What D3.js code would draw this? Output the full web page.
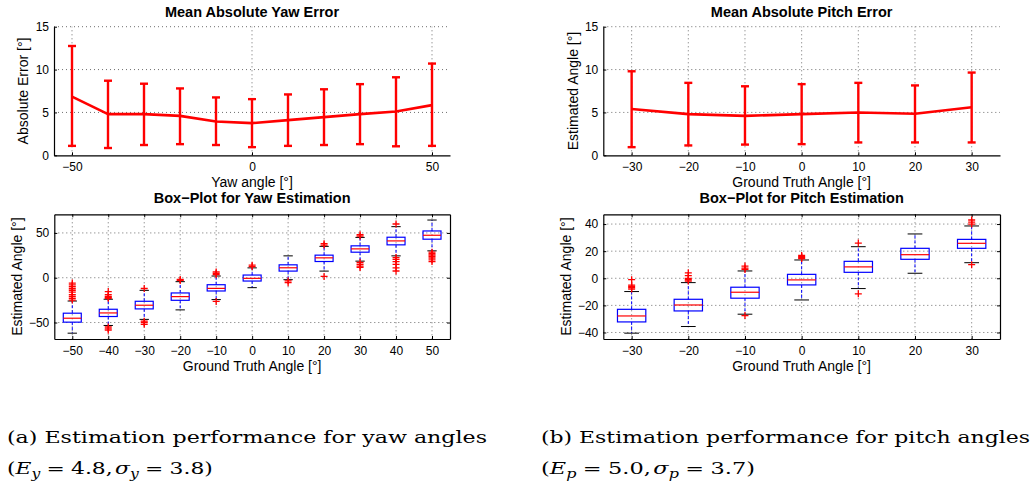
<!DOCTYPE html>
<html><head><meta charset="utf-8">
<script src="https://cdn.jsdelivr.net/npm/d3@7"></script>
<style>
body{margin:0;background:#fff}
svg text{font-family:"Liberation Sans",Arial,Helvetica,sans-serif;fill:#000}
</style>
</head><body>
<svg id="c" width="1032" height="487"></svg>
<script>
// ---------------- DATA ----------------
const yawAngles = [-50,-40,-30,-20,-10,0,10,20,30,40,50];
const yawErrMean = [6.85,4.8,4.8,4.6,3.95,3.75,4.1,4.45,4.8,5.1,5.85];
const yawErrLow  = [1.1,0.85,1.2,1.3,1.2,0.95,1.1,1.2,1.3,1.05,1.1];
const yawErrHigh = [12.75,8.7,8.35,7.8,6.75,6.55,7.1,7.7,8.3,9.1,10.7];

const pitchAngles = [-30,-20,-10,0,10,20,30];
const pitchErrMean = [5.4,4.8,4.6,4.8,5.0,4.85,5.6];
const pitchErrLow  = [0.95,1.15,1.25,1.3,1.5,1.5,1.5];
const pitchErrHigh = [9.8,8.45,8.05,8.3,8.45,8.15,9.65];

const yawBoxQ1     = [-49.6,-43.3,-34.8,-25.2,-14.8,-3.7,7.4,18.1,28.5,36.7,43];
const yawBoxMedian = [-45.2,-39.3,-30.7,-21.1,-11.9,-0.7,11.1,22.2,32.2,41.1,47.4];
const yawBoxQ3     = [-39.6,-35.2,-26.3,-17,-7.8,3.0,14.4,25.2,35.6,45.2,52.2];
const yawBoxWhiskLo = [-61.9,-53.3,-46.5,-35.9,-24.4,-11.1,-2.2,7.4,18.5,24.4,30];
const yawBoxWhiskHi = [-26,-24,-14.1,-4.4,1.9,11,24.4,35,45,57,64.4];
const yawBoxOutliers = [
  [-6,-8,-10,-12,-14,-16,-19,-21,-23,-25],
  [-15.5,-19,-21,-22,-23,-55,-57,-58.5],
  [-12,-48.5,-50,-52],
  [-2,-3],
  [3.5,5,6.5,-26.5],
  [12.5,14],
  [-3.5,-5.5],
  [36.5,38,1.5],
  [46.5,48,17,15,13,11.5],
  [60,22.5,20.5,18,15,11,7.5],
  [28.5,27,25.5,24,22,20,18]
];

const pitchBoxQ1     = [-32.2,-24.1,-14.7,-4.9,4.4,14,22.1];
const pitchBoxMedian = [-27.8,-19.7,-10.3,-1.2,8.4,17.4,25.8];
const pitchBoxQ3     = [-22.9,-15.5,-6.6,2.9,12.5,22.1,28.7];
const pitchBoxWhiskLo = [-40.5,-35.6,-26.5,-16,-7.6,3.7,11.5];
const pitchBoxWhiskHi = [-9.8,-3.2,5.4,13.5,23.3,32.7,38.6];
const pitchBoxOutliers = [
  [-1,-5,-6,-7,-8],
  [4,2,0,-1,-2],
  [6.5,7.5,9,-27.5],
  [14.5,15.2,16,16.8],
  [26,-11.5],
  [],
  [40,41.5,43,10]
];

const yawErrTicksX = [-50,0,50];
const pitchErrTicksX = [-30,-20,-10,0,10,20,30];
const errTicksY = [0,5,10,15];
const yawBoxTicksY = [-50,0,50];
const pitchBoxTicksY = [-40,-20,0,20,40];

// ---------------- DRAW ----------------
const svg = d3.select("#c");
const fmt = d3.format("");
const RED = "#ff0000", BLUE = "#0000ff";

// vertical lines at xv spanning yRange, horizontal lines at yv spanning xRange
function dottedGrid(g, x, y, xv, yv, xRange, yRange){
  const st = s => s.attr("stroke","#333").attr("stroke-width",1).attr("stroke-dasharray","1,3").attr("opacity",0.7);
  xv.forEach(v => st(g.append("line").attr("x1",x(v)).attr("x2",x(v)).attr("y1",yRange[0]).attr("y2",yRange[1])));
  yv.forEach(v => st(g.append("line").attr("y1",y(v)).attr("y2",y(v)).attr("x1",xRange[0]).attr("x2",xRange[1])));
}

function styleAxis(sel){
  sel.selectAll("path").attr("stroke","#000").attr("stroke-width",1.2);
  sel.selectAll("line").attr("stroke","#000");
  sel.selectAll("text").style("font-size","12px").attr("fill","#000");
}

function labels(cfg){
  svg.append("text").attr("x",(cfg.x0+cfg.x1)/2).attr("y",cfg.titleY).attr("text-anchor","middle")
    .style("font-size","14.5px").style("font-weight","bold").text(cfg.title);
  svg.append("text").attr("x",(cfg.x0+cfg.x1)/2).attr("y",cfg.xlabelY).attr("text-anchor","middle")
    .style("font-size","14px").text(cfg.xlabel);
  svg.append("text").attr("transform",`translate(${cfg.ylabelX},${(cfg.y0+cfg.y1)/2}) rotate(-90)`)
    .attr("text-anchor","middle").style("font-size","14px").text(cfg.ylabel);
}

function errorPlot(cfg){
  const x = d3.scaleLinear().domain(cfg.xDomain).range([cfg.x0,cfg.x1]);
  const y = d3.scaleLinear().domain([0,15]).range([cfg.y1,cfg.y0]);
  const g = svg.append("g");
  dottedGrid(g, x, y, cfg.xTicks, errTicksY.filter(v=>v>0), [cfg.x0,cfg.x1], [y(0),y(15)]);
  const ax = g.append("g").attr("transform",`translate(0,${cfg.y1})`)
    .call(d3.axisBottom(x).tickValues(cfg.xTicks).tickSizeInner(-3).tickSizeOuter(0).tickPadding(7.5).tickFormat(fmt));
  styleAxis(ax);
  const ay = g.append("g").attr("transform",`translate(${cfg.x0},0)`)
    .call(d3.axisLeft(y).tickValues(errTicksY).tickSizeInner(-3).tickSizeOuter(0).tickPadding(5));
  styleAxis(ay);
  const pts = cfg.angles.map((a,i)=>({a, m:cfg.mean[i], lo:cfg.low[i], hi:cfg.high[i]}));
  g.append("path").datum(pts).attr("fill","none").attr("stroke",RED).attr("stroke-width",2.6)
    .attr("stroke-linejoin","round").attr("d", d3.line().x(d=>x(d.a)).y(d=>y(d.m)));
  const eb = g.selectAll(".eb").data(pts).enter().append("g").attr("class","eb");
  eb.append("line").attr("x1",d=>x(d.a)).attr("x2",d=>x(d.a)).attr("y1",d=>y(d.lo)).attr("y2",d=>y(d.hi))
    .attr("stroke",RED).attr("stroke-width",2.4);
  [ "lo","hi" ].forEach(k => eb.append("line").attr("x1",d=>x(d.a)-4).attr("x2",d=>x(d.a)+4)
    .attr("y1",d=>y(d[k])).attr("y2",d=>y(d[k])).attr("stroke",RED).attr("stroke-width",2.4));
  labels(cfg);
}

function boxPlot(cfg){
  const n = cfg.angles.length;
  const x = d3.scaleLinear().domain([0.5, n+0.5]).range([cfg.x0,cfg.x1]);
  const y = d3.scaleLinear().domain(cfg.yDomain).range([cfg.y1,cfg.y0]);
  const pos = cfg.angles.map((a,i)=>i+1);
  const g = svg.append("g");
  dottedGrid(g, x, y, pos, cfg.yTicks, [cfg.x0,cfg.x1], [cfg.y0,cfg.y1]);
  const ax = g.append("g").attr("transform",`translate(0,${cfg.y1})`)
    .call(d3.axisBottom(x).tickValues(pos).tickSizeInner(-3).tickSizeOuter(0).tickPadding(7.5)
      .tickFormat((d,i)=>fmt(cfg.angles[i])));
  styleAxis(ax);
  const ay = g.append("g").attr("transform",`translate(${cfg.x0},0)`)
    .call(d3.axisLeft(y).tickValues(cfg.yTicks).tickSizeInner(-3).tickSizeOuter(0).tickPadding(5).tickFormat(fmt));
  styleAxis(ay);
  const ayr = g.append("g").attr("transform",`translate(${cfg.x1},0)`)
    .call(d3.axisRight(y).tickValues(cfg.yTicks).tickSizeInner(-3).tickSizeOuter(0).tickFormat(""));
  styleAxis(ayr);
  const axt = g.append("g").attr("transform",`translate(0,${cfg.y0})`)
    .call(d3.axisTop(x).tickValues(pos).tickSizeInner(-3).tickSizeOuter(0).tickFormat(""));
  styleAxis(axt);

  const bw = 0.25, cw = 0.13;
  const items = pos.map((p,i)=>({p, q1:cfg.q1[i], md:cfg.med[i], q3:cfg.q3[i], wl:cfg.wlo[i], wh:cfg.whi[i], out:cfg.out[i]}));
  const bg = g.selectAll(".bx").data(items).enter().append("g").attr("class","bx");
  bg.append("line").attr("x1",d=>x(d.p)).attr("x2",d=>x(d.p)).attr("y1",d=>y(d.q3)).attr("y2",d=>y(d.wh))
    .attr("stroke",BLUE).attr("stroke-width",1).attr("stroke-dasharray","3,2");
  bg.append("line").attr("x1",d=>x(d.p)).attr("x2",d=>x(d.p)).attr("y1",d=>y(d.q1)).attr("y2",d=>y(d.wl))
    .attr("stroke",BLUE).attr("stroke-width",1).attr("stroke-dasharray","3,2");
  ["wl","wh"].forEach(k => bg.append("line").attr("x1",d=>x(d.p-cw)).attr("x2",d=>x(d.p+cw))
    .attr("y1",d=>y(d[k])).attr("y2",d=>y(d[k])).attr("stroke","#000").attr("stroke-width",1));
  bg.append("rect").attr("x",d=>x(d.p-bw)).attr("width",d=>x(d.p+bw)-x(d.p-bw))
    .attr("y",d=>y(d.q3)).attr("height",d=>y(d.q1)-y(d.q3))
    .attr("fill","none").attr("stroke",BLUE).attr("stroke-width",1.2);
  bg.append("line").attr("x1",d=>x(d.p-bw)).attr("x2",d=>x(d.p+bw)).attr("y1",d=>y(d.md)).attr("y2",d=>y(d.md))
    .attr("stroke",RED).attr("stroke-width",1.2);
  bg.each(function(d){
    const s = d3.select(this);
    d.out.forEach(v=>{
      const cx = x(d.p), cy = y(v);
      s.append("path").attr("d",`M${cx-3.5},${cy}H${cx+3.5}M${cx},${cy-3.5}V${cy+3.5}`)
        .attr("stroke",RED).attr("stroke-width",1.3).attr("fill","none");
    });
  });
  labels(cfg);
}

errorPlot({x0:54,x1:450,y0:26.7,y1:155.3,xDomain:[-55,55],xTicks:yawErrTicksX,
  angles:yawAngles,mean:yawErrMean,low:yawErrLow,high:yawErrHigh,
  title:"Mean Absolute Yaw Error",titleY:16.7,xlabel:"Yaw angle [°]",xlabelY:186.5,
  ylabel:"Absolute Error [°]",ylabelX:28});
errorPlot({x0:603.3,x1:1000,y0:26.7,y1:155.3,xDomain:[-35,35],xTicks:pitchErrTicksX,
  angles:pitchAngles,mean:pitchErrMean,low:pitchErrLow,high:pitchErrHigh,
  title:"Mean Absolute Pitch Error",titleY:16.7,xlabel:"Ground Truth Angle [°]",xlabelY:186.5,
  ylabel:"Estimated Angle [°]",ylabelX:578});
boxPlot({x0:54.3,x1:450,y0:214.3,y1:339,yDomain:[-68.4,70.8],yTicks:yawBoxTicksY,
  angles:yawAngles,q1:yawBoxQ1,med:yawBoxMedian,q3:yawBoxQ3,wlo:yawBoxWhiskLo,whi:yawBoxWhiskHi,out:yawBoxOutliers,
  title:"Box\u2212Plot for Yaw Estimation",titleY:203.3,xlabel:"Ground Truth Angle [°]",xlabelY:371,
  ylabel:"Estimated Angle [°]",ylabelX:21.5});
boxPlot({x0:603.3,x1:1000,y0:214.3,y1:339,yDomain:[-44.8,47.2],yTicks:pitchBoxTicksY,
  angles:pitchAngles,q1:pitchBoxQ1,med:pitchBoxMedian,q3:pitchBoxQ3,wlo:pitchBoxWhiskLo,whi:pitchBoxWhiskHi,out:pitchBoxOutliers,
  title:"Box\u2212Plot for Pitch Estimation",titleY:203.3,xlabel:"Ground Truth Angle [°]",xlabelY:371,
  ylabel:"Estimated Angle [°]",ylabelX:571});

// ---------------- CAPTIONS ----------------
const SER = '"DejaVu Serif","Liberation Serif",serif';
function caption(x, l1, sym, sub, e, s, w1, w2){
  svg.append("text").attr("x",x).attr("y",442.7).style("font-family",SER).style("font-size","17.5px")
    .attr("textLength",w1).attr("lengthAdjust","spacingAndGlyphs").text(l1);
  const t = svg.append("text").attr("x",x).attr("y",474.3).style("font-family",SER).style("font-size","17.5px");
  t.append("tspan").text("(");
  t.append("tspan").style("font-style","italic").text(sym);
  t.append("tspan").attr("dy",4).style("font-size","12.5px").style("font-style","italic").text(sub);
  t.append("tspan").attr("dy",-4).attr("dx",5).text("=");
  t.append("tspan").attr("dx",5).text(e + ",");
  t.append("tspan").attr("dx",2).style("font-style","italic").text("σ");
  t.append("tspan").attr("dy",4).style("font-size","12.5px").style("font-style","italic").text(sub);
  t.append("tspan").attr("dy",-4).attr("dx",5).text("=");
  t.append("tspan").attr("dx",5).text(s + ")");
  // fit total width to the reference by scaling horizontally around x
  const bb = t.node().getBBox();
  if (bb.width > 0) t.attr("transform",`translate(${x},0) scale(${w2/bb.width},1) translate(${-x},0)`);
}
caption(7, "(a) Estimation performance for yaw angles", "E", "y", "4.8", "3.8", 480, 206);
caption(541, "(b) Estimation performance for pitch angles", "E", "p", "5.0", "3.7", 489, 214);
</script>
</body></html>
